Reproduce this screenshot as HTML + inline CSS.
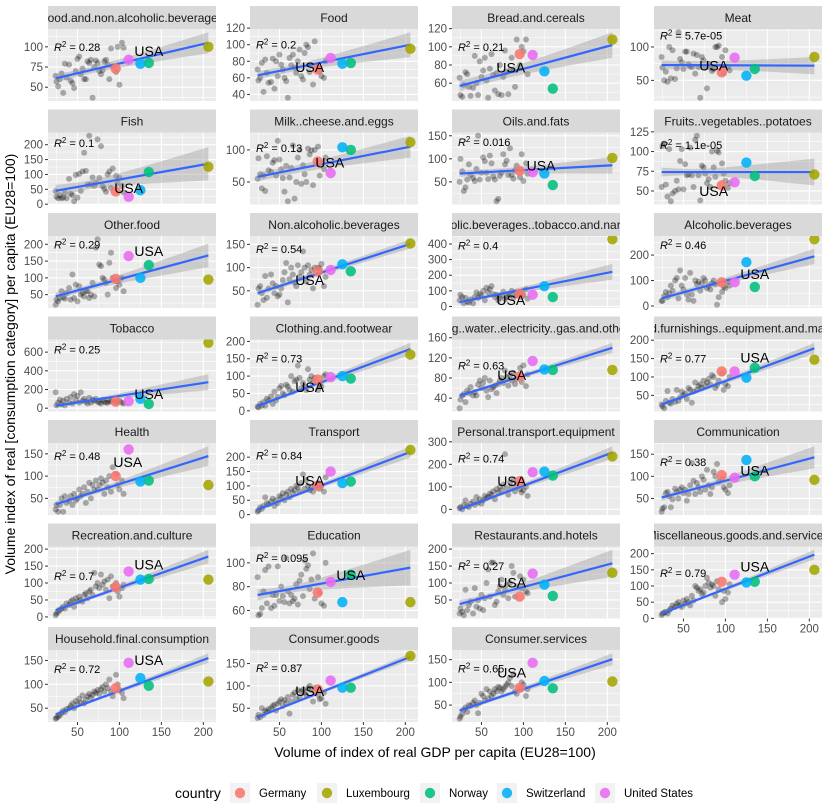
<!DOCTYPE html>
<html><head><meta charset="utf-8"><style>
html,body{margin:0;padding:0;background:#fff;}
svg{display:block;font-family:"Liberation Sans",sans-serif;}
</style></head><body>
<svg id="chart" width="828" height="803" viewBox="0 0 828 803"></svg>
<script>
// ---------- data ----------
const countries = ["Germany","Luxembourg","Norway","Switzerland","United States"];
const countryColors = ["#F8766D","#A3A500","#00BF7D","#00B0F6","#E76BF3"];
const countryGdp = [95.6, 206, 135, 125, 111];
const grayGdp = [24,25,27,29,31,33,35,37,40,42,44,46,48,50,52,54,56,58,60,62,64,66,68,70,72,74,76,78,80,82,84,86,88,90,92,96,98,100,103,105];

const panelTitles = ["Food.and.non.alcoholic.beverages","Food","Bread.and.cereals","Meat","Fish","Milk..cheese.and.eggs","Oils.and.fats","Fruits..vegetables..potatoes","Other.food","Non.alcoholic.beverages","Alcoholic.beverages..tobacco.and.narcotics","Alcoholic.beverages","Tobacco","Clothing.and.footwear","Housing..water..electricity..gas.and.other.fuels","Household.furnishings..equipment.and.maintenance","Health","Transport","Personal.transport.equipment","Communication","Recreation.and.culture","Education","Restaurants.and.hotels","Miscellaneous.goods.and.services","Household.final.consumption","Consumer.goods","Consumer.services"];
const panelTicks = [[50,75,100],[40,60,80,100,120],[60,80,100,120],[50,100],[0,50,100,150,200],[50,100],[50,100,150],[50,75,100,125],[50,100,150,200],[50,100,150],[0,100,200,300,400],[0,100,200],[0,200,400,600],[0,50,100,150,200],[40,80,120,160],[50,100,150,200],[50,100,150],[0,50,100,150,200],[0,100,200,300],[50,100,150],[0,50,100,150,200],[60,80,100],[50,100,150,200],[0,50,100,150,200],[50,100,150],[50,100,150],[50,100,150]];
const r2Labels = ["0.28","0.2","0.21","5.7e-05","0.1","0.13","0.016","1.1e-05","0.29","0.54","0.4","0.46","0.25","0.73","0.63","0.77","0.48","0.84","0.74","0.38","0.7","0.095","0.27","0.79","0.72","0.87","0.65"];
const r2Y = [100,100,100,117,205,103,136,108,200,140,390,240,630,150,105,150,145,205,225,133,120,104,150,140,132,140,130];
const usaLabelPos = [[135,95],[86,73],[85,77],[86,72],[111,55],[110,80],[121,85],[86,50],[135,180],[86,73],[85,40],[135,125],[135,150],[86,68],[86,86],[135,153],[110,132],[86,118],[86,125],[135,113],[135,155],[135,90],[86,102],[135,160],[135,151],[86,88],[86,122]];
const fitEnds = [[61,105],[63,100],[57,102],[73,72],[45,136],[58,105],[68,86],[74,74],[45,167],[45,151],[28,222],[30,195],[25,278],[14,178],[45,140],[25,178],[37,145],[18,218],[0,252],[52,143],[20,178],[73,96],[38,158],[15,197],[37,155],[30,165],[38,151]];
const seMid = [4,4,5,6,15,6,6,4,8,5,12,10,15,5,3,5,5,6,8,5,5,3,7,4,3,3,4];
const seRight = [13,15,14,13,56,17,18,17,35,10,50,30,85,18,10,15,22,20,28,25,20,15,40,15,10,8,13];
const countryValues = [
[73,100,80,79,84],[70,95,78,77,84],[92,108,54,73,91],[62,85,67,57,84],[43,126,108,47,25],[82,112,100,104,64],[74,102,43,68,71],[57,71,69,86,61],[97,95,138,100,165],[92,152,92,107,95],[80,430,60,130,75],[93,262,75,172,93],[70,700,45,100,75],[90,162,93,100,97],[83,96,96,97,114],[115,147,125,98,115],[100,80,90,88,160],[100,225,115,110,150],[125,235,150,168,165],[103,92,100,137,97],[88,110,112,110,134],[75,67,90,67,84],[60,130,62,95,128],[113,150,113,111,135],[92,106,97,113,145],[92,167,96,96,112],[88,102,87,103,143]];
const grayValues = [
[64,57,51,60,67,43,79,62,78,58,55,49,70,85,88,66,73,60,60,82,80,84,37,75,83,80,70,66,71,82,84,78,60,98,76,69,100,53,105,99],
[70,57,60,78,43,82,66,54,55,83,47,80,62,88,76,70,60,56,36,84,75,88,72,66,80,94,62,58,90,100,97,67,75,52,104,72,68,62,60,80],
[66,47,45,58,72,70,56,46,55,90,60,47,84,67,74,88,63,44,76,92,69,52,71,48,80,47,67,96,72,48,74,88,74,56,108,80,100,95,108,70],
[85,69,50,63,48,100,53,95,52,68,122,82,77,67,93,93,74,71,70,90,60,88,70,24,85,80,70,38,75,69,64,67,100,100,102,85,60,95,70,65],
[44,25,20,30,20,22,38,20,85,35,30,10,98,22,102,45,110,173,112,65,230,67,90,62,72,218,88,195,60,52,42,100,110,55,120,95,70,88,60,40],
[55,87,62,40,60,36,90,68,66,80,84,60,114,85,70,56,35,75,20,57,72,107,24,50,88,100,47,76,62,50,102,93,99,45,100,105,60,80,70,88],
[50,100,73,30,38,55,88,65,58,52,78,150,55,70,103,95,70,56,107,90,62,55,8,13,63,70,110,88,96,65,123,65,57,75,85,60,110,52,90,68],
[55,107,110,58,43,103,37,47,50,63,52,88,103,52,84,70,71,105,70,55,115,120,70,38,82,80,72,60,65,55,100,80,68,101,99,85,72,63,54,60],
[20,35,30,40,60,42,38,55,70,35,110,40,80,30,75,50,55,45,60,60,40,50,85,45,190,215,140,135,100,95,85,50,145,175,100,70,90,80,100,60],
[20,55,60,45,30,82,35,55,85,66,45,60,38,42,55,73,90,110,25,75,100,85,68,60,105,80,90,135,100,70,105,85,95,55,100,100,98,108,60,80],
[40,75,60,20,55,30,25,45,20,60,90,55,80,70,100,40,120,90,110,130,80,60,75,40,55,70,95,45,60,80,70,100,55,90,70,85,60,75,110,50],
[20,20,40,55,35,50,80,60,100,110,30,140,80,65,110,45,25,130,45,20,100,85,95,60,90,110,100,70,80,65,90,100,85,5,35,55,75,70,95,80],
[170,30,60,90,40,80,30,100,60,120,50,150,90,130,60,170,80,100,70,50,110,60,90,80,100,70,60,50,90,70,60,60,80,70,90,60,70,80,60,50],
[12,10,20,15,25,15,35,30,42,20,55,30,40,65,72,50,45,75,70,60,100,55,85,90,130,95,65,80,70,60,120,90,100,80,95,60,75,70,100,105],
[20,37,45,48,32,55,50,62,45,52,45,67,75,60,70,80,55,42,75,58,62,65,50,68,75,80,70,95,82,65,85,75,90,68,78,100,72,105,64,87],
[25,20,15,35,62,30,28,40,32,65,35,45,60,50,55,40,70,65,30,60,85,65,75,80,70,90,75,85,95,80,105,100,70,78,90,110,65,80,75,100],
[25,35,20,35,50,20,55,40,45,55,35,60,45,50,70,55,60,75,40,65,85,50,80,70,90,70,80,95,85,60,90,75,100,65,120,105,80,70,90,60],
[10,15,25,20,30,60,40,35,45,55,30,50,40,65,60,75,50,70,80,60,90,75,85,100,95,80,110,140,90,120,100,85,95,80,105,110,90,100,80,130],
[5,10,0,20,40,15,10,25,35,20,55,30,45,25,40,60,50,55,70,65,80,45,90,75,100,85,110,245,95,65,120,100,130,80,110,90,75,85,100,60],
[20,27,30,62,65,55,30,48,72,65,50,70,75,62,70,45,60,80,130,90,60,85,75,65,100,92,70,115,80,60,75,110,100,128,88,95,75,70,62,80],
[5,10,15,20,25,30,25,40,35,45,50,30,55,45,60,50,45,65,70,55,75,80,65,130,90,100,85,125,95,105,80,110,55,120,90,100,75,60,85,95],
[88,56,57,62,76,94,66,97,62,73,64,73,97,68,80,72,67,104,76,66,73,68,70,82,65,85,90,72,102,95,98,78,86,108,70,88,75,66,64,100],
[10,25,15,5,80,20,35,45,10,85,30,50,25,65,20,55,100,140,60,160,160,35,45,75,90,110,65,80,95,55,100,150,130,60,90,120,85,110,75,70],
[10,15,18,20,15,25,30,40,35,45,50,40,35,55,45,60,50,40,70,55,100,95,85,90,75,80,100,125,110,95,105,100,70,115,90,50,85,60,80,105],
[28,30,32,35,40,45,42,48,50,55,60,50,65,58,70,62,77,60,68,75,80,72,78,85,82,88,80,90,95,85,100,92,110,85,75,120,100,88,82,71],
[28,35,30,50,35,45,42,48,50,55,58,45,60,65,70,55,68,62,75,38,65,80,85,70,90,75,88,92,85,80,95,100,90,65,95,80,70,72,85,60],
[20,25,30,40,45,35,50,48,55,60,50,32,55,75,70,60,85,65,80,70,75,85,80,90,88,80,85,90,95,100,110,92,118,80,75,88,100,95,70,85]];
const xTicks = [50,100,150,200];

// ---------- layout ----------
const NS = "http://www.w3.org/2000/svg";
const svg = document.getElementById("chart");
function mk(tag, attrs, parent){const e=document.createElementNS(NS,tag);for(const k in attrs)e.setAttribute(k,attrs[k]);(parent||svg).appendChild(e);return e;}
const colX0=48, colPitch=202, panelW=168, rowY0=6, rowPitch=103.5, stripH=23, panelH=72;
const allX = grayGdp.concat(countryGdp);
const xMin=Math.min(...allX), xMax=Math.max(...allX), xPad=(xMax-xMin)*0.05;
const xd0=xMin-xPad, xd1=xMax+xPad;
const defs = mk("defs",{});

panelTitles.forEach((title,i)=>{
  const col=i%4, row=Math.floor(i/4);
  const left=colX0+col*colPitch, stripTop=rowY0+row*rowPitch, top=stripTop+stripH, bottom=top+panelH;
  const sx = v => left+(v-xd0)/(xd1-xd0)*panelW;
  const [y0,y1]=fitEnds[i];
  const fit = x => y0+(y1-y0)*(x-xMin)/(xMax-xMin);
  const cc=(seRight[i]*seRight[i]-seMid[i]*seMid[i])/Math.pow(xMax-60,2);
  const se = x => Math.sqrt(seMid[i]*seMid[i]+cc*(x-60)*(x-60));
  let vals = grayValues[i].concat(countryValues[i],[r2Y[i],usaLabelPos[i][1],y0+se(xMin),y0-se(xMin),y1+se(xMax),y1-se(xMax)]);
  const yMn=Math.min(...vals), yMx=Math.max(...vals), yPad=(yMx-yMn)*0.05;
  const yd0=yMn-yPad, yd1=yMx+yPad;
  const sy = v => bottom-(v-yd0)/(yd1-yd0)*panelH;

  const g = mk("g",{});
  
  
  const cp = mk("clipPath",{id:"cp"+i},defs); mk("rect",{x:left,y:top,width:panelW,height:panelH},cp);
  const cs = mk("clipPath",{id:"cs"+i},defs); mk("rect",{x:left,y:stripTop,width:panelW,height:stripH},cs);
  const strip = mk("rect",{x:left,y:stripTop,width:panelW,height:stripH,fill:"#D9D9D9"},g);
  
  
  const st = mk("text",{x:left+panelW/2,y:stripTop+15.8,"text-anchor":"middle","font-size":"12",fill:"#1A1A1A","clip-path":"url(#cs"+i+")"},g);
  st.textContent=title;
  
  
  const bg = mk("rect",{x:left,y:top,width:panelW,height:panelH,fill:"#EBEBEB"},g);
  
  
  const pg = mk("g",{"clip-path":"url(#cp"+i+")"},g);
  const t=panelTicks[i], step=t[1]-t[0];
  for(let v=t[0]-step/2; v<=t[t.length-1]+step; v+=step){ if(v>yd0&&v<yd1) mk("line",{x1:left,x2:left+panelW,y1:sy(v),y2:sy(v),stroke:"#fff","stroke-width":0.55},pg); }
  [25,75,125,175].forEach(v=>{ if(v>xd0&&v<xd1) mk("line",{x1:sx(v),x2:sx(v),y1:top,y2:bottom,stroke:"#fff","stroke-width":0.55},pg);});
  t.forEach(v=>mk("line",{x1:left,x2:left+panelW,y1:sy(v),y2:sy(v),stroke:"#fff","stroke-width":1.1},pg));
  xTicks.forEach(v=>mk("line",{x1:sx(v),x2:sx(v),y1:top,y2:bottom,stroke:"#fff","stroke-width":1.1},pg));
  t.forEach(v=>{
    mk("line",{x1:left-3,x2:left,y1:sy(v),y2:sy(v),stroke:"#333","stroke-width":1},g);
    const tl=mk("text",{x:left-5,y:sy(v)+4,"text-anchor":"end","font-size":"11.5",fill:"#4D4D4D"},g);
    tl.textContent=v;
    
    
  });
  grayGdp.forEach((x,k)=>{
    const c=mk("circle",{cx:sx(x),cy:sy(grayValues[i][k]),r:3,fill:"#000","fill-opacity":0.3},pg);
    
    
  });
  let up="",lo="";
  for(let s=0;s<=40;s++){const x=xMin+(xMax-xMin)*s/40; up+=(s?"L":"M")+sx(x).toFixed(2)+","+sy(fit(x)+se(x)).toFixed(2);}
  for(let s=40;s>=0;s--){const x=xMin+(xMax-xMin)*s/40; lo+="L"+sx(x).toFixed(2)+","+sy(fit(x)-se(x)).toFixed(2);}
  const band=mk("path",{d:up+lo+"Z",fill:"#999999","fill-opacity":0.4},pg);
  
  
  const fl=mk("line",{x1:sx(xMin),y1:sy(fit(xMin)),x2:sx(xMax),y2:sy(fit(xMax)),stroke:"#3366FF","stroke-width":2.2},pg);
  
  
  countryGdp.forEach((x,k)=>{
    const c=mk("circle",{cx:sx(x),cy:sy(countryValues[i][k]),r:5.2,fill:countryColors[k],"fill-opacity":0.88},pg);
    
    
  });
  const r2=mk("text",{x:sx(22),y:sy(r2Y[i])+4,"font-size":"11",fill:"#000"},g);
  
  
  const ti=mk("tspan",{"font-style":"italic"},r2); ti.textContent="R";
  const ts=mk("tspan",{dy:"-4","font-size":"8"},r2); ts.textContent="2";
  const tr=mk("tspan",{dy:"4"},r2); tr.textContent=" = "+r2Labels[i];
  const ul=mk("text",{x:sx(usaLabelPos[i][0]),y:sy(usaLabelPos[i][1])+5,"text-anchor":"middle","font-size":"14",fill:"#000"},pg);
  ul.textContent="USA";
  
  
  const lastRowForCol = col===3 ? 5 : 6;
  if(row===lastRowForCol){
    xTicks.forEach(v=>{
      mk("line",{x1:sx(v),x2:sx(v),y1:bottom,y2:bottom+3,stroke:"#333","stroke-width":1},g);
      const xl=mk("text",{x:sx(v),y:bottom+14,"text-anchor":"middle","font-size":"11.5",fill:"#4D4D4D"},g);
      xl.textContent=v;
      
      
    });
  }
});
</script>
<script>
const s2=document.getElementById("chart");
function mk2(tag,a){const e=document.createElementNS("http://www.w3.org/2000/svg",tag);for(const k in a)e.setAttribute(k,a[k]);s2.appendChild(e);return e;}
const xt=mk2("text",{x:435,y:757,"text-anchor":"middle","font-size":"14",fill:"#000"});
xt.textContent="Volume of index of real GDP per capita (EU28=100)";


const yt=mk2("text",{x:0,y:0,transform:"translate(15,364) rotate(-90)","text-anchor":"middle","font-size":"14",fill:"#000"});
yt.textContent="Volume index of real [consumption category] per capita (EU28=100)";


const lt=mk2("text",{x:175,y:798,"font-size":"14",fill:"#000"});
lt.textContent="country";


const keyX=[230,317,420,497,595];
countries.forEach((c,k)=>{
  const kr=mk2("rect",{x:keyX[k],y:783,width:20,height:20,fill:"#F2F2F2"});
  
  
  mk2("circle",{cx:keyX[k]+10,cy:793,r:5.2,fill:countryColors[k],"fill-opacity":0.88});
  const lb=mk2("text",{x:keyX[k]+29,y:797,"font-size":"11.5",fill:"#000"});
  lb.textContent=c;
  
  
});
</script>
</body></html>
